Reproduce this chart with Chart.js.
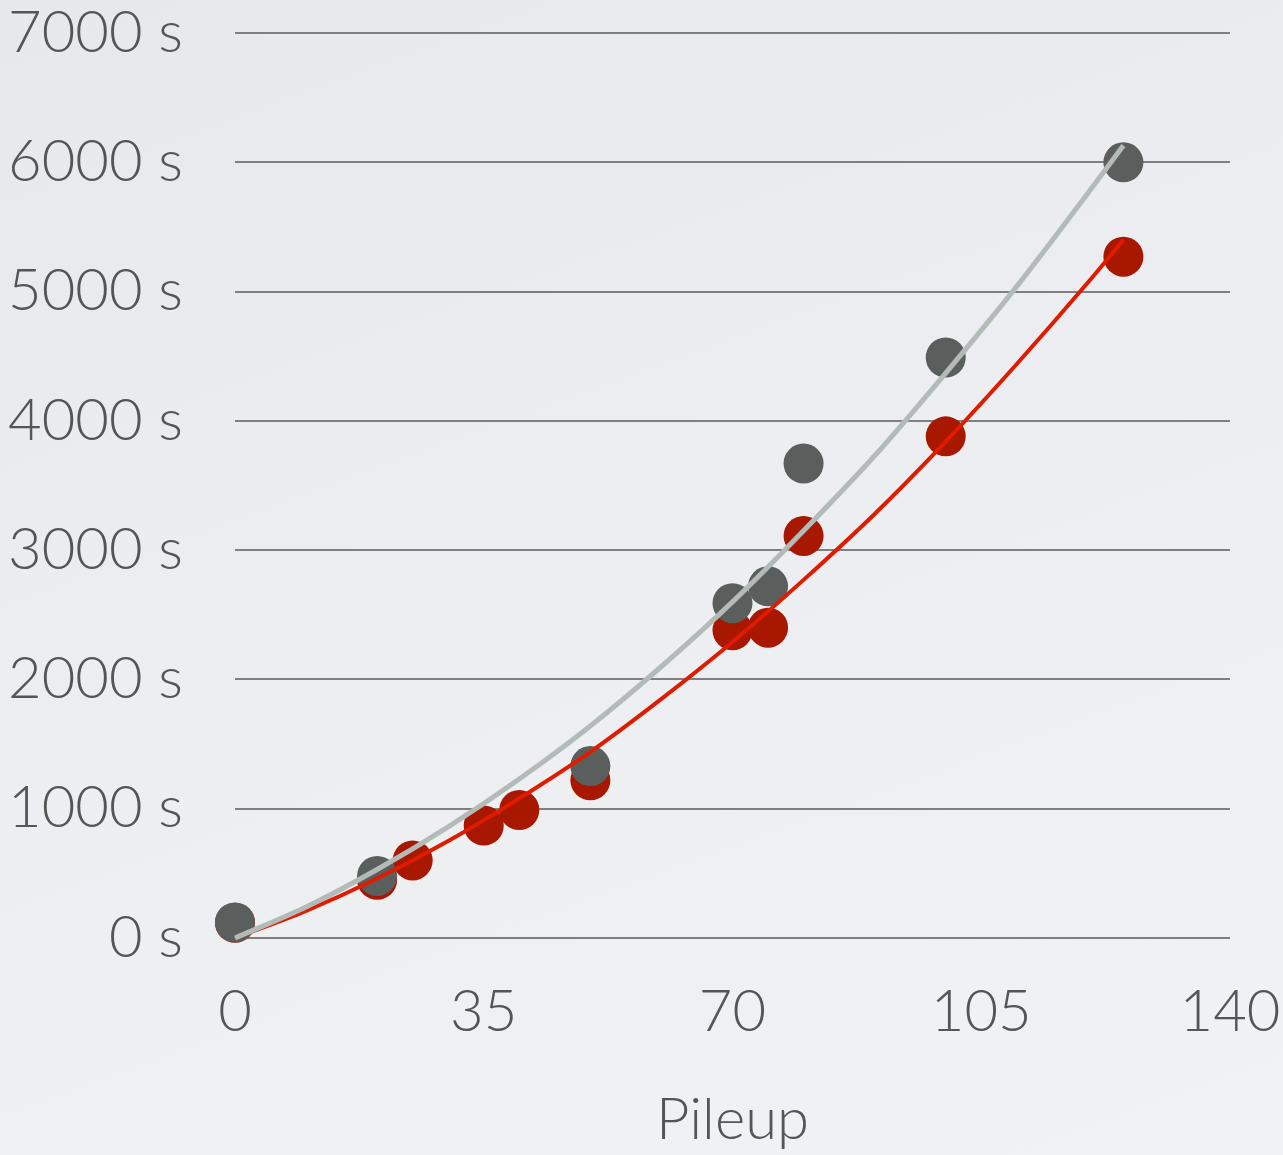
<!DOCTYPE html>
<html>
<head>
<meta charset="utf-8">
<script src="https://cdn.jsdelivr.net/npm/chart.js@4"></script>
<style>
  html, body { margin: 0; padding: 0; }
  body {
    width: 1283px; height: 1155px; overflow: hidden;
    background: linear-gradient(160deg, #e6e8eb 0%, #eceef1 50%, #f1f2f4 100%);
  }
  canvas { display: block; }
</style>
</head>
<body>
<canvas id="chart" width="1283" height="1155"></canvas>
<script>
// measured points (pileup vs time in seconds)
const pileupGray = [0, 20, 50, 70, 75, 80, 100, 125];
const timeGray   = [120, 480, 1330, 2590, 2720, 3670, 4490, 6000];
const pileupRed  = [0, 20, 25, 35, 40, 50, 70, 75, 80, 100, 125];
const timeRed    = [118, 450, 600, 870, 990, 1220, 2380, 2400, 3110, 3880, 5270];

// trend curves
const trendX     = [0, 10, 20, 30, 40, 50, 60, 70, 80, 90, 100, 110, 120, 125];
const trendGray  = [0, 240, 530, 860, 1230, 1640, 2100, 2600, 3150, 3730, 4370, 5040, 5760, 6130];
const trendRed   = [0, 210, 460, 750, 1080, 1440, 1850, 2290, 2770, 3280, 3840, 4440, 5070, 5400];

const xTicks = [0, 35, 70, 105, 140];
const yMax = 7000, yStep = 1000;

const toPts = (xs, ys) => xs.map((x, i) => ({ x, y: ys[i] }));

Chart.defaults.font.family = 'Lato, "Open Sans", sans-serif';
Chart.defaults.color = '#555555';

const tickFont = { size: 58, weight: 300, lineHeight: 1.0 };

new Chart(document.getElementById('chart'), {
  type: 'scatter',
  data: {
    datasets: [
      // first dataset ends up on top
      { data: toPts(trendX, trendGray), showLine: true, borderColor: '#b2bbb7', borderWidth: 5,
        pointRadius: 0, tension: 0.4, cubicInterpolationMode: 'monotone', clip: false },
      { data: toPts(trendX, trendRed), showLine: true, borderColor: '#e01c00', borderWidth: 4,
        pointRadius: 0, tension: 0.4, cubicInterpolationMode: 'monotone', clip: false },
      { data: toPts(pileupGray, timeGray), pointRadius: 20, pointBackgroundColor: '#5a5e5c',
        pointBorderWidth: 0, clip: false },
      { data: toPts(pileupRed, timeRed), pointRadius: 20, pointBackgroundColor: '#a81700',
        pointBorderWidth: 0, clip: false }
    ]
  },
  options: {
    responsive: false,
    animation: false,
    events: [],
    layout: { padding: { left: 0, right: 53, top: 33, bottom: 0 } },
    plugins: { legend: { display: false }, tooltip: { enabled: false } },
    scales: {
      x: {
        type: 'linear', min: 0, max: 140,
        afterBuildTicks: s => { s.ticks = xTicks.map(v => ({ value: v })); },
        ticks: { font: tickFont, padding: 37, maxRotation: 0 },
        grid: { display: false },
        border: { display: false },
        title: { display: true, text: 'Pileup', font: { size: 58, weight: 300, lineHeight: 1.2 },
                 padding: { top: 0, bottom: 0 } },
        afterFit: s => { s.height = 217; s.paddingLeft = 0; s.paddingRight = 0; }
      },
      y: {
        min: 0, max: yMax,
        ticks: { stepSize: yStep, font: tickFont, padding: 52, callback: v => v + ' s' },
        grid: { color: '#7f7f7f', lineWidth: 2, drawTicks: false },
        border: { display: false },
        afterFit: s => { s.width = 235; s.paddingTop = 0; s.paddingBottom = 0; }
      }
    }
  }
});
</script>
</body>
</html>
